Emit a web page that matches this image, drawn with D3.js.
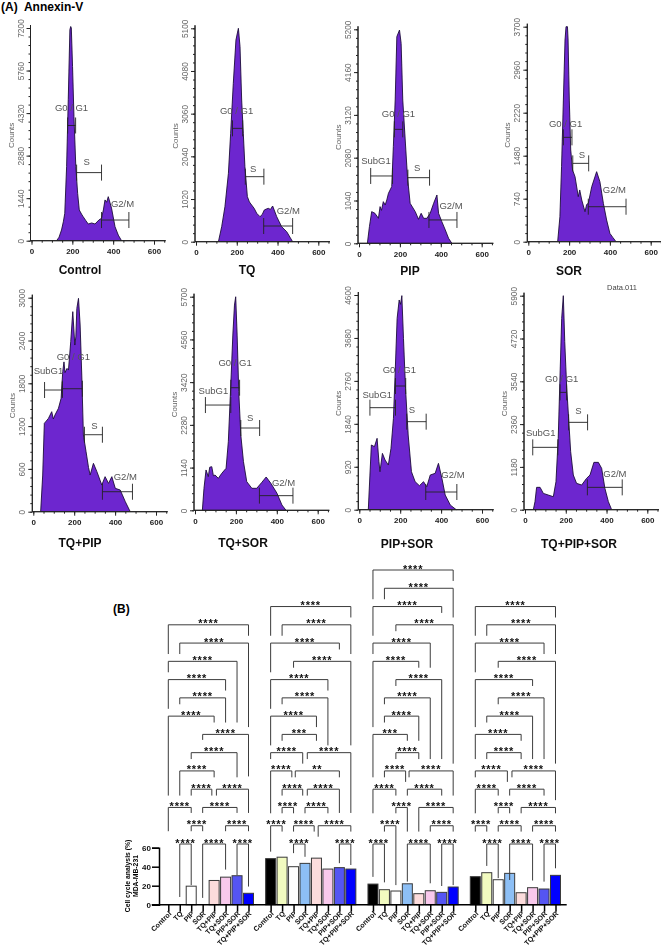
<!DOCTYPE html>
<html><head><meta charset="utf-8">
<style>
html,body{margin:0;padding:0;background:#fff}
svg{display:block;font-family:"Liberation Sans",Arial,sans-serif}
</style>
<script src="https://cdn.jsdelivr.net/npm/d3@7"></script>
</head><body><svg id="fig" width="661" height="949"></svg>
<script>
// ---------- (A) flow cytometry histograms: [channel, counts]
const controlTrace=[[123,0],[135,120],[147,362],[156,640],[163,927],[172,2510],[180,4770],[188,7140],[192,7250],[195,7200],[201,5900],[208,4200],[217,2510],[226,1600],[234,1040],[245,900],[253,814],[265,690],[278,565],[295,600],[311,565],[330,700],[343,757],[352,1040],[360,1380],[368,1300],[376,1490],[392,1100],[409,475],[425,190],[441,0]];
const tqTrace=[[110,0],[126,359],[142,837],[159,1633],[170,2590],[183,3785],[196,4820],[204,5010],[208,5100],[216,4660],[224,3386],[232,2590],[240,1793],[252,1076],[262,950],[273,876],[285,800],[298,677],[314,598],[325,650],[335,757],[345,780],[355,797],[365,770],[376,853],[396,598],[420,359],[445,239],[474,0]];
const pipTrace=[[41,0],[51,405],[62,769],[78,729],[95,607],[103,891],[110,800],[119,1012],[128,930],[136,1053],[144,1215],[160,1377],[168,2348],[177,3482],[185,5020],[198,5182],[206,4858],[214,3482],[226,2510],[237,1619],[250,972],[275,769],[291,583],[304,729],[316,607],[332,607],[348,729],[365,972],[381,1174],[389,729],[405,526],[422,324],[438,121],[454,0]];
const sorTrace=[[144,0],[155,430],[163,1291],[172,2438],[180,3471],[185,3700],[192,3700],[195,3471],[201,2438],[208,1578],[217,1233],[229,1119],[245,775],[252,890],[262,717],[278,516],[286,640],[294,660],[311,947],[335,1205],[351,1033],[368,660],[384,373],[400,143],[415,70],[430,0]];
const tqPipTrace=[[36,0],[46,514],[54,1238],[74,1308],[90,1402],[98,1300],[106,1355],[123,1449],[136,1589],[144,1963],[150,2100],[155,1950],[165,2009],[172,1986],[183,2383],[193,2804],[203,2336],[208,2450],[213,2850],[221,2991],[229,2617],[237,1916],[245,1075],[258,841],[270,620],[278,514],[294,678],[311,561],[335,374],[351,491],[368,397],[384,491],[401,327],[425,304],[450,140],[474,0]];
const tqSorTrace=[[36,0],[44,587],[54,1076],[65,898],[72,1150],[82,1164],[90,920],[98,942],[114,853],[131,987],[152,1120],[163,1831],[175,3342],[185,4676],[193,5476],[199,5698],[206,4676],[214,3164],[224,2009],[237,1298],[253,764],[278,587],[302,587],[327,747],[348,889],[371,720],[401,453],[425,142],[445,0]];
const pipSorTrace=[[44,0],[52,743],[59,1386],[74,1350],[87,1529],[96,1029],[101,814],[113,1207],[126,1064],[142,957],[155,1314],[167,1957],[175,2886],[185,4100],[195,4493],[202,4400],[208,4586],[216,3671],[226,2600],[239,1600],[255,814],[273,600],[294,514],[314,600],[330,493],[347,743],[371,779],[387,993],[404,671],[420,314],[445,100],[474,0]];
const allThreeTrace=[[41,0],[49,221],[57,616],[74,616],[90,450],[114,404],[139,358],[152,772],[163,1967],[172,3713],[180,5276],[188,5900],[195,4632],[204,3437],[214,2518],[224,1599],[237,956],[253,726],[278,680],[302,864],[319,956],[338,1305],[360,1305],[376,1140],[392,588],[409,221],[425,0]];

// gate: [name, channel from, channel to, counts level, label channel, label counts]
const controlGates=[["G0 / G1",177,216,3900,196,4395],["S",221,343,2305,270,2565],["G2/M",343,477,700,446,1153]];
const tqGates=[["G0 / G1",179,229,2709,199,3044],["S",242,333,1554,280,1657],["G2/M",332,474,375,453,661]];
const pipGates=[["G0 / G1",173,214,2769,193,3077],["SubG1",57,164,1636,83,1927],["S",239,345,1595,284,1757],["G2/M",342,479,567,450,834]];
const sorGates=[["G0 / G1",172,214,1796,183,1979],["S",218,296,1348,263,1434],["G2/M",294,479,602,422,843]];
const tqPipGates=[["G0 / G1",142,240,1724,196,2126],["SubG1",55,142,1706,74,1930],["S",250,338,1079,299,1159],["G2/M",338,485,280,450,444]];
const tqSorGates=[["G0 / G1",175,218,3271,196,3849],["SubG1",51,175,2809,90,3093],["S",224,316,2196,270,2391],["G2/M",315,479,391,433,649]];
const pipSorGates=[["G0 / G1",177,227,2650,196,2921],["SubG1",52,177,2186,88,2386],["S",232,327,1886,257,2079],["G2/M",325,477,379,458,671]];
const allThreeGates=[["G0 / G1",172,204,3235,180,3511],["SubG1",38,161,1719,77,2031],["S",214,307,2408,262,2629],["G2/M",306,477,616,441,910]];

const panelNames=["Control","TQ","PIP","SOR","TQ+PIP","TQ+SOR","PIP+SOR","TQ+PIP+SOR"];
const panelMax=[7200,5100,5200,3700,3000,5700,4600,5900];
const panelTraces=[controlTrace,tqTrace,pipTrace,sorTrace,tqPipTrace,tqSorTrace,pipSorTrace,allThreeTrace];
const panelGates=[controlGates,tqGates,pipGates,sorGates,tqPipGates,tqSorGates,pipSorGates,allThreeGates];
const channelTicks=[0,200,400,600];

// ---------- (B) cell-cycle bars
const categories=["Control","TQ","PIP","SOR","TQ+PIP","TQ+SOR","PIP+SOR","TQ+PIP+SOR"];
const phases=["SubG1","G0/G1","S","G2/M"];
const subG1Values=[0,0,19.5,0,25.5,29,30.5,12];
const g0g1Values=[48.5,50,40,43.5,49,37.5,39,37.5];
const sPhaseValues=[21.7,15.8,14.4,22,11.6,14.7,13,18.6];
const g2mValues=[29.5,33.7,26.3,33,12.6,17.9,16.5,30.9];
const phaseValues=[subG1Values,g0g1Values,sPhaseValues,g2mValues];
const percentTicks=[0,20,40,60];
const barColors=["#000000","#f2fbc0","#ffffff","#8dbff5","#fcdcdc","#f8c9ec","#5555f2","#0000ff"];

// comparison: [from category, to category, row, stars, left leg end row, right leg end row]
const subG1Brackets=[[0,7,3,4,4.6,3.6],[1,7,4,4,4.6,8.6],[0,6,5,4,5.6,8.35],[0,5,6,4,7.6,6.6],[1,5,7,4,7.35,8.35],[0,4,8,4,12.35,8.35],[3,7,9,4,9.3,11.3],[2,6,10,4,10.35,11.35],[1,4,11,4,12.35,11.35],[2,3.8,12,4,12.35,12.35],[4.2,7,12,4,12.35,13.3],[0,2,13,4,14.3,13.3],[3,6,13,4,13.3,13.3],[2,3,14,4,14.3,14.3],[5,7,14,4,14.3,14.3],[1,2,15,4,17.9,17.25],[3,5,15,4,17.95,16.4],[6,7,15,4,16.7,17.33]];
const g0g1Brackets=[[0,7,2,4,3.6,2.6],[1,7,3,4,3.6,4.6],[0,6,4,4,5.6,4.35],[2,7,5,4,5.35,9.6],[0,5,6,4,7.6,6.6],[1,5,7,4,7.35,9.6],[0,4,8,4,9.6,8.6],[1,4,9,3,9.35,9.35],[0,2.8,10,4,10.35,10.6],[3.2,7,10,4,10.35,13.3],[0,1.85,11,4,13.32,11.35],[2.15,6,11,2,11.35,11.35],[1,2.8,12,4,12.35,12.35],[3.2,6,12,4,12.35,13.3],[1,2,13,4,13.32,13.32],[3,5,13,4,13.32,13.32],[0,1,14,4,15.42,14.32],[2,3.8,14,4,14.32,14.32],[4.15,7,14,4,14.6,14.32],[2,3,15,4,15.5,15.7],[6,7,15,4,16.05,16.15]];
const sPhaseBrackets=[[0,7,0,4,1.6,0.6],[1,7,1,4,1.6,2.6],[0,6,2,4,3.6,2.35],[2,7,3,4,3.35,10.6],[0,5,4,4,4.6,5.35],[0,4,5,4,8.6,5.35],[2,6,6,4,6.35,10.35],[1,5,7,4,7.35,10.35],[1,4,8,4,8.35,9.35],[0,3,9,3,11.35,9.35],[2,4,10,4,10.35,10.35],[1,2.85,11,4,11.35,11.6],[3.15,7,11,4,11.35,12.35],[0,2,12,4,13.32,12.35],[3,6,12,4,12.35,12.35],[2,3,13,4,13.32,14.32],[4,7,13,4,14.32,13.32],[1,2,14,4,14.32,17.25],[5,7,14,4,14.32,14.32],[0,1,15,4,16.8,17.1],[3,5,15,4,17.06,17.15],[6,7,15,4,17.3,17.25]];
const g2mBrackets=[[0,7,2,4,3.6,2.6],[1,7,3,4,3.6,4.6],[0,6,4,4,5.6,4.6],[2,7,5,4,5.35,10.6],[0,5,6,4,8.6,6.35],[2,6,7,4,7.35,10.35],[1,5,8,4,8.35,10.35],[0,4,9,4,10.35,9.35],[1,4,10,4,10.35,10.35],[0,2.8,11,4,11.35,11.6],[3.2,7,11,4,11.35,12.6],[0,2,12,4,13.32,12.35],[3,6,12,4,12.35,12.35],[2,3,13,4,13.32,13.32],[4,7,13,4,13.32,13.32],[0,1,14,4,14.32,14.32],[2,4,14,4,14.32,14.32],[5,7,14,4,14.32,14.32],[1,2,15,4,16.2,16.87],[3,5,15,4,16.97,17],[6,7,15,4,17.06,16.33]];
const phaseBrackets=[subG1Brackets,g0g1Brackets,sPhaseBrackets,g2mBrackets];

// ---------- layout (kept apart from the data)
const panelLayout=[
 {x0:31.5,x6:154,y0:240.7,yT:28,cx:80,cy:274},
 {x0:196,x6:318.3,y0:241.7,yT:28.3,cx:247,cy:274},
 {x0:359,x6:481.7,y0:243.3,yT:29.3,cx:410,cy:275},
 {x0:528.3,x6:650.7,y0:241.7,yT:26.7,cx:569,cy:275},
 {x0:33.3,x6:156,y0:511.7,yT:297.7,cx:80,cy:547},
 {x0:195,x6:317.7,y0:510.3,yT:296.7,cx:243,cy:547},
 {x0:359.3,x6:482,y0:509.7,yT:295,cx:407,cy:548},
 {x0:525,x6:647.3,y0:509.7,yT:295.7,cx:579,cy:548}
];
const svg=d3.select("#fig");
const defs=svg.append("defs");
defs.append("filter").attr("id","soft").attr("x","-5%").attr("y","-5%").attr("width","110%").attr("height","110%")
  .append("feGaussianBlur").attr("stdDeviation",0.45);
defs.append("filter").attr("id","softer").attr("x","-5%").attr("y","-5%").attr("width","110%").attr("height","110%")
  .append("feGaussianBlur").attr("stdDeviation",0.3);

svg.append("text").attr("x",1).attr("y",11).attr("font-size",12).attr("font-weight","bold").style("white-space","pre").text("(A)  Annexin-V");
svg.append("text").attr("x",113).attr("y",613).attr("font-size",12).attr("font-weight","bold").text("(B)");

const flow=svg.append("g").attr("filter","url(#soft)");
panelNames.forEach((name,i)=>{
  const L=panelLayout[i], max=panelMax[i];
  const x=d3.scaleLinear([0,600],[L.x0,L.x6]);
  const y=d3.scaleLinear([0,max],[L.y0,L.yT]);
  const g=flow.append("g");
  const area=d3.area().x(d=>x(d[0])).y0(y(0)).y1(d=>y(d[1]));
  const line=d3.line().x(d=>x(d[0])).y(d=>y(d[1]));
  g.append("path").datum(panelTraces[i]).attr("d",area).attr("fill","#6d28cf");
  g.append("path").datum(panelTraces[i]).attr("d",line).attr("fill","none").attr("stroke","#1c0b3a").attr("stroke-width",0.9);

  // minor and major axes
  const yStep=max/5, xMinor=d3.range(0,651,50);
  const yAxisMinor=d3.axisLeft(y).tickValues(d3.range(0,max+1,yStep/5)).tickSize(2).tickFormat("");
  const yAxis=d3.axisLeft(y).tickValues(d3.range(0,max+1,yStep)).tickSize(4).tickFormat(d3.format("d"));
  const xAxisMinor=d3.axisBottom(x).tickValues(xMinor).tickSize(2).tickFormat("");
  const xAxis=d3.axisBottom(x).tickValues(channelTicks).tickSize(4).tickPadding(4);
  [yAxisMinor,yAxis].forEach(a=>{
    const s=g.append("g").attr("transform",`translate(${L.x0-1},0)`).call(a);
    s.select(".domain").attr("stroke","#222").attr("d",`M0,${L.y0}V${L.yT-3}`);
    s.selectAll("line").attr("stroke","#222");
    s.selectAll("text").attr("x",null).attr("dy",null).attr("text-anchor","middle")
      .attr("transform","translate(-7,0) rotate(-90)")
      .attr("font-size",8.4).attr("font-family","Liberation Sans").attr("fill","#666");
  });
  [xAxisMinor,xAxis].forEach(a=>{
    const s=g.append("g").attr("transform",`translate(0,${L.y0})`).call(a);
    s.select(".domain").attr("stroke","#222").attr("d",`M${L.x0-1},0H${x(657)}`);
    s.selectAll("line").attr("stroke","#222");
    s.selectAll("text").attr("fill","#222").attr("font-size",8).attr("font-family","Liberation Sans").attr("font-weight","bold");
  });

  g.append("text").attr("transform",`translate(${L.x0-18},${(L.y0+L.yT)/2+1}) rotate(-90)`)
    .attr("text-anchor","middle").attr("font-size",8).attr("fill","#666").text("Counts");

  // gates
  panelGates[i].forEach(([label,a,b,lev,lx,ly])=>{
    g.append("path").attr("d",`M${x(a)},${y(lev)-8}V${y(lev)+8}M${x(a)},${y(lev)}H${x(b)}M${x(b)},${y(lev)-8}V${y(lev)+8}`)
      .attr("fill","none").attr("stroke","#222").attr("stroke-width",0.9);
    g.append("text").attr("x",x(lx)).attr("y",y(ly)).attr("text-anchor","middle")
      .attr("font-size",9.5).attr("fill","#555").style("white-space","pre").text(label);
  });
});
flow.append("text").attr("x",622).attr("y",290).attr("text-anchor","middle").attr("font-size",7.5).attr("fill","#444").text("Data.011");

panelNames.forEach((name,i)=>{
  svg.append("text").attr("x",panelLayout[i].cx).attr("y",panelLayout[i].cy).attr("text-anchor","middle")
    .attr("font-size",12).attr("font-weight","bold").attr("fill","#111").attr("filter","url(#softer)").text(name);
});

// ---------- (B)
const chart=svg.append("g").attr("filter","url(#softer)");
const yBar=d3.scaleLinear([0,60],[904.7,847.7]);
const rowY=d3.scaleLinear([0,15],[570,844]);
const phaseX=d3.scalePoint(phases,[168.3,475.3]);
const catX=d3.scalePoint(categories,[0,80.2]);
const catPos=d3.scaleLinear([0,7],[0,80.2]);
const barW=10.4;

phases.forEach((ph,pi)=>{
  const g=chart.append("g").attr("transform",`translate(${phaseX(ph)},0)`);
  g.selectAll("rect").data(categories.map((c,i)=>({c,i,v:phaseValues[pi][i]})).filter(d=>d.v>0)).join("rect")
    .attr("x",d=>catX(d.c)-barW/2+0.2).attr("width",barW-0.4)
    .attr("y",d=>yBar(d.v)).attr("height",d=>yBar(0)-yBar(d.v))
    .attr("fill",d=>barColors[d.i]).attr("stroke","#3a3a3a").attr("stroke-width",1);
  const axis=d3.axisBottom(catX).tickSize(7).tickPadding(1);
  const a=g.append("g").attr("transform",`translate(0,${yBar(0)})`).call(axis);
  a.select(".domain").remove();
  a.selectAll("line").attr("stroke","#000").attr("stroke-width",1.5);
  a.selectAll("text").attr("font-size",7.1).attr("font-family","Liberation Sans").attr("font-weight","bold").attr("fill","#111")
    .attr("text-anchor","end").attr("y",null).attr("dy",null).attr("transform","translate(3,9.5) rotate(-45)");
  phaseBrackets[pi].forEach(([from,to,row,stars,le,re])=>{
    const x1=catPos(from), x2=catPos(to);
    g.append("path").attr("d",`M${x1},${rowY(le)}V${rowY(row)}H${x2}V${rowY(re)}`)
      .attr("fill","none").attr("stroke","#3c3c3c").attr("stroke-width",1);
    g.append("text").attr("x",(x1+x2)/2).attr("y",rowY(row)+2.5).attr("text-anchor","middle")
      .attr("font-size",11).attr("font-weight","bold").attr("letter-spacing",0.8).attr("fill","#111").text("*".repeat(stars));
  });
});
chart.append("line").attr("x1",151.7).attr("x2",566.7).attr("y1",yBar(0)).attr("y2",yBar(0)).attr("stroke","#000").attr("stroke-width",1.6);
const yAx=chart.append("g").attr("transform","translate(159,0)").call(d3.axisLeft(yBar).tickValues(percentTicks).tickSize(7).tickPadding(1));
yAx.select(".domain").attr("stroke","#000").attr("stroke-width",1.5);
yAx.selectAll("line").attr("stroke","#000").attr("stroke-width",1.5);
yAx.selectAll("text").attr("font-size",8).attr("font-family","Liberation Sans").attr("font-weight","bold").attr("fill","#111");
chart.append("text").attr("transform","translate(130,876) rotate(-90)").attr("text-anchor","middle").attr("font-size",6.8).attr("font-weight","bold").text("Cell cycle analysis (%)");
chart.append("text").attr("transform","translate(138,876) rotate(-90)").attr("text-anchor","middle").attr("font-size",6.8).attr("font-weight","bold").text("MDA-MB-231");
</script></body></html>
